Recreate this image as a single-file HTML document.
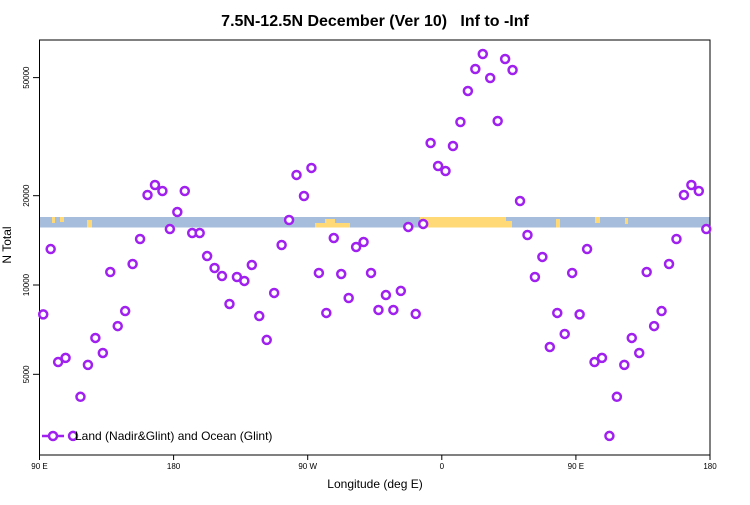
<!DOCTYPE html>
<html><head><meta charset="utf-8"><style>
body{margin:0;background:#fff;width:750px;height:500px;overflow:hidden;font-family:"Liberation Sans",sans-serif}
</style></head><body>
<svg id="chart" width="750" height="500" xmlns="http://www.w3.org/2000/svg">
<text x="375" y="26" text-anchor="middle" font-size="16" font-weight="bold" style="white-space:pre">7.5N-12.5N December (Ver 10)   Inf to -Inf</text>
<g>
<rect x="39.5" y="217" width="670.5" height="10.5" fill="#a6bddb"/>
<rect x="420" y="217" width="86" height="10.5" fill="#fed976"/>
<rect x="315" y="223" width="35" height="4.5" fill="#fed976"/>
<rect x="325" y="219" width="10" height="4" fill="#fed976"/>
<rect x="506" y="221" width="6" height="6.5" fill="#fed976"/>
<rect x="556" y="219" width="4" height="8.5" fill="#fed976"/>
<rect x="595" y="217" width="5" height="6" fill="#fed976"/>
<rect x="625" y="218" width="3" height="6" fill="#fed976"/>
<rect x="52" y="217" width="3" height="6" fill="#fed976"/>
<rect x="60" y="217" width="4" height="5" fill="#fed976"/>
<rect x="87" y="220" width="5" height="7.5" fill="#fed976"/>
</g>
<rect x="39.5" y="40" width="670.5" height="415" fill="none" stroke="#000" stroke-width="1"/>
<g id="yaxis"></g>
<g id="xaxis"></g>
<text x="375" y="488" text-anchor="middle" font-size="12">Longitude (deg E)</text>
<text transform="translate(11,245) rotate(-90)" text-anchor="middle" font-size="12">N Total</text>
<g id="points"></g>
<g>
<line x1="42" y1="436" x2="64" y2="436" stroke="#a020f0" stroke-width="2.5"/>
<circle cx="53" cy="436" r="4" fill="#fff" stroke="#a020f0" stroke-width="2.5"/>
<text x="75" y="440" font-size="12">Land (Nadir&amp;Glint) and Ocean (Glint)</text>
</g>
</svg>
<script>
const values=[7960,13220,5500,5680,3100,4200,5380,6630,5900,11060,7270,8170,11770,14290,20110,21730,20740,15440,17620,20740,14970,14970,12520,11410,10720,8630,10640,10320,11680,7860,6530,9400,13640,16560,23490,19950,24800,10980,8050,14400,10890,9040,13430,13960,10980,8240,9250,8240,9550,15690,7990,16060,30100,25180,24220,29410,35430,45070,53460,60050,49850,35710,57770,53040,19190,14740,10640,12430,6180,8050,6840,10980];
const startLon=92.5, stepLon=5;
const yTicks=[5000,10000,20000,50000];
const yTickLabels=["5000","10000","20000","50000"];
const xTickLons=[90,180,270,360,450,540];
const xTickLabels=["90 E","180","90 W","0","90 E","180"];
const NS="http://www.w3.org/2000/svg";
function xs(lon){return 39.5+(lon-90)*(670.5/450);}
function ys(v){return 285-296.7*Math.log10(v/10000);}
const ya=document.getElementById('yaxis');
yTicks.forEach((t,i)=>{
 const y=ys(t);
 const l=document.createElementNS(NS,'line');
 l.setAttribute('x1',33);l.setAttribute('x2',39.5);l.setAttribute('y1',y);l.setAttribute('y2',y);l.setAttribute('stroke','#000');
 
 
 ya.appendChild(l);
 const tx=document.createElementNS(NS,'text');
 tx.setAttribute('transform',`translate(29,${y}) rotate(-90)`);tx.setAttribute('text-anchor','middle');tx.setAttribute('font-size','8');
 tx.textContent=yTickLabels[i];
 
 
 ya.appendChild(tx);
});
const xa=document.getElementById('xaxis');
xTickLons.forEach((t,i)=>{
 const x=xs(t);
 const l=document.createElementNS(NS,'line');
 l.setAttribute('x1',x);l.setAttribute('x2',x);l.setAttribute('y1',455);l.setAttribute('y2',460);l.setAttribute('stroke','#000');
 
 
 xa.appendChild(l);
 const tx=document.createElementNS(NS,'text');
 tx.setAttribute('x',x);tx.setAttribute('y',469);tx.setAttribute('text-anchor','middle');tx.setAttribute('font-size','8');
 tx.textContent=xTickLabels[i];
 
 
 xa.appendChild(tx);
});
const pg=document.getElementById('points');
for(let k=0;k<90;k++){
 const lon=startLon+k*stepLon;
 if(lon>540)break;
 const v=values[k%values.length];
 const c=document.createElementNS(NS,'circle');
 c.setAttribute('cx',xs(lon));c.setAttribute('cy',ys(v));c.setAttribute('r',4);
 c.setAttribute('fill','#fff');c.setAttribute('stroke','#a020f0');c.setAttribute('stroke-width','2.5');
 
 
 pg.appendChild(c);
}
</script>
</body></html>
